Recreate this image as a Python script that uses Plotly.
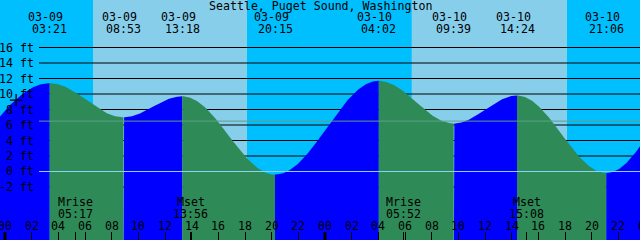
import numpy as np
import plotly.graph_objects as go

# ---------------- data ----------------
title = "Seattle, Puget Sound, Washington"

# tide extremes (first and last lie outside the visible window)
tide_times = ["03-08 18:10", "03-09 03:21", "03-09 08:53", "03-09 13:18", "03-09 20:15",
              "03-10 04:02", "03-10 09:39", "03-10 14:24", "03-10 21:06", "03-11 04:10"]
tide_heights = [-0.5, 11.4, 7.0, 9.7, -0.4, 11.7, 6.2, 9.8, -0.2, 11.9]
tide_labeled = [False, True, True, True, True, True, True, True, True, False]

# daylight intervals
sunrise_times = ["03-09 06:36", "03-10 06:30"]
sunset_times = ["03-09 18:09", "03-10 18:09"]

# moon events
moon_names = ["Mrise", "Mset", "Mrise", "Mset"]
moon_times = ["03-09 05:17", "03-09 13:56", "03-10 05:52", "03-10 15:08"]

# axis ticks
y_ticks = [16, 14, 12, 10, 8, 6, 4, 2, 0, -2]
y_labels = ["16 ft", "14 ft", "12 ft", "10 ft", "8 ft", "6 ft", "4 ft", "2 ft", "0 ft", "-2 ft"]
hour_ticks = [0, 2, 4, 6, 8, 10, 12, 14, 16, 18, 20, 22, 24,
              26, 28, 30, 32, 34, 36, 38, 40, 42, 44, 46, 48]
hour_labels = ["00", "02", "04", "06", "08", "10", "12", "14", "16", "18", "20", "22", "00",
               "02", "04", "06", "08", "10", "12", "14", "16", "18", "20", "22", "00"]
midnights = [0, 24, 48]

mean_sea_level = 6.5
datum_level = 0
now_time = "03-09 00:50"
now_height = 9.2

# ---------------- helpers ----------------
def to_hours(s):
    md, hm = s.split(" ")
    mo, dd = md.split("-")
    hh, mm = hm.split(":")
    return (int(dd) - 9) * 24 + int(hh) + int(mm) / 60.0

X_RANGE = [-0.375, 47.625]
Y_RANGE = [-8.84, 22.13]
W, H = 640, 240
FONT = dict(family="DejaVu Sans Mono", size=11.6, color="black")

NIGHT = "#00BFFF"
DAY = "#87CEEB"
RISE = "#0000FF"
FALL = "#2E8B57"

def px_to_paper_x(px):
    return px / W

def row_to_paper_y(py):
    return 1 - py / H

fig = go.Figure()

# ---------------- tide fill ----------------
tt = [to_hours(s) for s in tide_times]
base = Y_RANGE[0] - 10
for i in range(len(tt) - 1):
    t0, t1 = tt[i], tt[i + 1]
    h0, h1 = tide_heights[i], tide_heights[i + 1]
    ts = np.linspace(t0, t1, 90)
    hs = h0 + (h1 - h0) * (1 - np.cos(np.pi * (ts - t0) / (t1 - t0))) / 2
    xs = np.concatenate([[t0], ts, [t1]])
    ys = np.concatenate([[base], hs, [base]])
    fig.add_trace(go.Scatter(x=xs, y=ys, fill="toself", mode="lines",
                             line=dict(width=0, color=RISE if h1 > h0 else FALL),
                             fillcolor=RISE if h1 > h0 else FALL,
                             hoverinfo="skip", showlegend=False))

# current-time marker
fig.add_trace(go.Scatter(x=[to_hours(now_time)], y=[now_height], mode="markers",
                         marker=dict(symbol="cross-thin", size=9,
                                     line=dict(width=1.3, color="black")),
                         hoverinfo="skip", showlegend=False))

shapes = []
# daylight
for a, b in zip(sunrise_times, sunset_times):
    shapes.append(dict(type="rect", xref="x", yref="paper", x0=to_hours(a), x1=to_hours(b),
                       y0=0, y1=1, fillcolor=DAY, line=dict(width=0), layer="below"))
# gridlines (below the tide fill)
for v in y_ticks:
    shapes.append(dict(type="line", xref="paper", yref="y", x0=px_to_paper_x(39), x1=1,
                       y0=v, y1=v, line=dict(color="black", width=1), layer="below"))
# MSL and datum lines above fill
shapes.append(dict(type="line", xref="paper", yref="y", x0=px_to_paper_x(39), x1=1,
                   y0=mean_sea_level, y1=mean_sea_level,
                   line=dict(color="#5f9f86", width=1), layer="above"))
shapes.append(dict(type="line", xref="paper", yref="y", x0=px_to_paper_x(39), x1=1,
                   y0=datum_level, y1=datum_level,
                   line=dict(color="#8fd3f0", width=1), layer="above"))
# thick midnight ticks
for m in midnights:
    shapes.append(dict(type="line", xref="x", yref="paper", x0=m, x1=m,
                       y0=0, y1=8 / H, line=dict(color="black", width=3), layer="above"))

annotations = []
annotations.append(dict(text=title, xref="paper", yref="paper", x=0.5, y=row_to_paper_y(6),
                        xanchor="center", yanchor="middle", showarrow=False, font=FONT))
for s, lab in zip(tide_times, tide_labeled):
    if not lab:
        continue
    t = to_hours(s)
    md, hm = s.split(" ")
    annotations.append(dict(text=md, xref="x", yref="paper", x=t, y=row_to_paper_y(17),
                            xanchor="center", yanchor="middle", xshift=-4,
                            showarrow=False, font=FONT))
    annotations.append(dict(text=hm, xref="x", yref="paper", x=t, y=row_to_paper_y(29),
                            xanchor="center", yanchor="middle",
                            showarrow=False, font=FONT))
for v, lab in zip(y_ticks, y_labels):
    annotations.append(dict(text=lab, xref="paper", yref="y", x=px_to_paper_x(36), y=v,
                            xanchor="right", yanchor="middle", showarrow=False, font=FONT))
for name, s in zip(moon_names, moon_times):
    t = to_hours(s)
    annotations.append(dict(text=name, xref="x", yref="paper", x=t, y=row_to_paper_y(201.5),
                            xanchor="center", yanchor="middle", showarrow=False, font=FONT))
    annotations.append(dict(text=s.split(" ")[1], xref="x", yref="paper", x=t,
                            y=row_to_paper_y(213.5), xanchor="center", yanchor="middle",
                            showarrow=False, font=FONT))
span = X_RANGE[1] - X_RANGE[0]
for h, lab in zip(hour_ticks, hour_labels):
    annotations.append(dict(text=lab, xref="paper", yref="paper", x=(h - X_RANGE[0]) / span,
                            y=row_to_paper_y(226), xanchor="center", yanchor="middle",
                            showarrow=False, font=FONT))

tick_vals = [h for h in hour_ticks] + [to_hours(s) for s in moon_times]

fig.update_layout(
    width=W, height=H, margin=dict(l=0, r=0, t=0, b=0),
    paper_bgcolor=NIGHT, plot_bgcolor=NIGHT,
    shapes=shapes, annotations=annotations, showlegend=False,
    xaxis=dict(range=X_RANGE, showgrid=False, zeroline=False, showticklabels=False,
               ticks="inside", ticklen=8, tickwidth=1, tickcolor="black",
               tickmode="array", tickvals=tick_vals, showline=False, fixedrange=True),
    yaxis=dict(range=Y_RANGE, showgrid=False, zeroline=False, showticklabels=False,
               ticks="", showline=False, fixedrange=True),
)

fig.write_html("out.html", config={"displayModeBar": False})
